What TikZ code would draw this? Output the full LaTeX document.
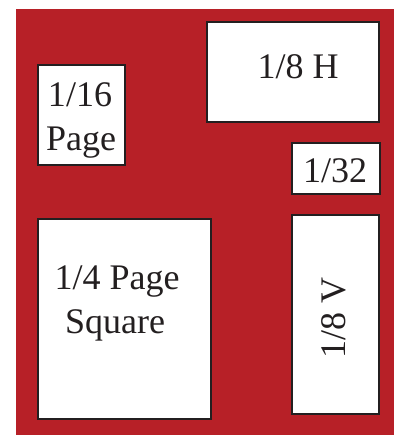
\documentclass[tikz,border=0pt]{standalone}
\usepackage{fontspec}
\setmainfont{Liberation Serif}
\definecolor{bgred}{RGB}{183,32,39}
\definecolor{ink}{RGB}{35,31,32}
\begin{document}
\begin{tikzpicture}[x=1pt,y=-1pt,
  box/.style={draw=ink, line width=2.5pt, fill=white, rectangle, inner sep=0pt},
  lbl/.style={font=\fontsize{36}{42}\selectfont, text=ink, inner sep=0pt}]
\useasboundingbox (0,0) rectangle (400,435);
\fill[bgred] (16,9) rectangle (394,435);
\node[box, minimum width=87pt, minimum height=100pt] (b16) at (81.5,115) {};
\node[box, minimum width=172pt, minimum height=100pt] (b8h) at (293,72) {};
\node[box, minimum width=88pt, minimum height=51pt] (b32) at (336,168.5) {};
\node[box, minimum width=173pt, minimum height=200pt] (b4) at (124.5,319) {};
\node[box, minimum width=87pt, minimum height=199pt] (b8v) at (335.5,314.5) {};
\node[lbl, anchor=base] (t16a) at (80,107) {1/16};
\node[lbl, anchor=base] (t16b) at (81,151) {Page};
\node[lbl, anchor=base] (t8h) at (298,79) {1/8 H};
\node[lbl, anchor=base] (t32) at (335,183) {1/32};
\node[lbl, anchor=base] (t4a) at (117,289) {1/4 Page};
\node[lbl, anchor=base] (t4b) at (115,333) {Square};
\node[lbl, rotate=90, anchor=center] (t8v) at (334,318) {1/8 V};
\end{tikzpicture}
\end{document}
